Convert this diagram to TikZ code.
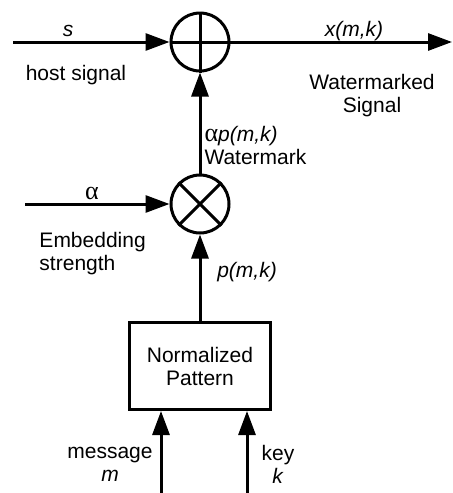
\documentclass[tikz,border=0pt]{standalone}
\usepackage{fontspec}
\setsansfont{Liberation Sans}
\newfontfamily\greekfont{Liberation Serif}
\usetikzlibrary{arrows.meta}
\tikzset{
  arr/.style={-{Triangle[length=12pt,width=8.5pt]}},
  lbl/.style={font=\sffamily\fontsize{10.5}{11.5}\selectfont,inner sep=0pt},
  junction/.style={draw,circle,minimum size=29pt,inner sep=0pt}
}
\newcommand\alp{{\greekfont\fontsize{13}{11.5}\selectfont α}}
\begin{document}
\begin{tikzpicture}[x=0.5pt,y=-0.5pt,line width=1.5pt]
\useasboundingbox (0,0) rectangle (453,493);
\node[junction] (add) at (200,42) {};
\draw (add.north)--(add.south) (add.west)--(add.east);
\node[junction] (mul) at (200,204) {};
\draw (mul.north west)--(mul.south east) (mul.north east)--(mul.south west);
\node[draw,lbl,minimum width=70.5pt,minimum height=43.5pt,align=center] (pat) at (200,366) {Normalized\\Pattern};
\coordinate (sin) at (13,42);
\coordinate (xout) at (452,42);
\coordinate (ain) at (25,204);
\coordinate (min) at (161,493);
\coordinate (kin) at (247,493);
\draw[arr] (sin)--(add);
\draw[arr] (add)--(xout);
\draw[arr] (mul)--(add);
\draw[arr] (ain)--(mul);
\draw[arr] (pat)--(mul);
\draw[arr] (min)--(min|-pat.south);
\draw[arr] (kin)--(kin|-pat.south);
\node[lbl] (s) at (68,31) {\textit{s}};
\node[lbl] (x) at (354,31) {\textit{x(m,k)}};
\node[lbl] (host) at (76,75) {host signal};
\node[lbl,align=center] (wsig) at (372,96) {Watermarked\\Signal};
\node[lbl,align=left,anchor=west] (wm) at (203,145) {\alp\textit{p(m,k)}\\Watermark};
\node[lbl] (a) at (92,193) {\alp};
\node[lbl,align=left,anchor=west] (emb) at (38,254) {Embedding\\strength};
\node[lbl] (p) at (247,272) {\textit{p(m,k)}};
\node[lbl,align=center] (msg) at (110,464) {message\\\textit{m}};
\node[lbl,align=center] (key) at (278,464) {key\\\textit{k}};
\end{tikzpicture}
\end{document}
